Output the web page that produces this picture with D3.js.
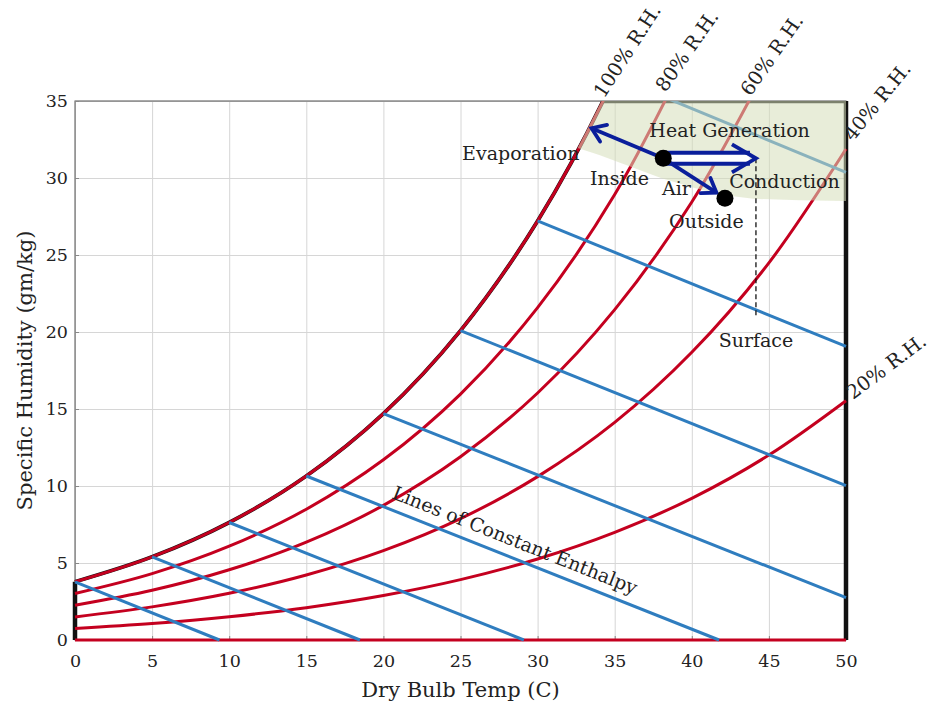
<!DOCTYPE html>
<meta charset="utf-8">
<title>Psychrometric chart</title>
<style>
    body { margin: 0; background: #fff; }
    text { font-family: "DejaVu Serif", serif; fill: #222; }
</style>
<script src="https://d3js.org/d3.v7.min.js"></script>
<svg id="chart" width="934" height="709"></svg>
<script>
    // dry bulb temperatures (C) where the humidity curves were read
    const temps = [0, 5, 10, 15, 20, 25, 30, 35, 40, 45, 50];

    // specific humidity (gm/kg) along each relative humidity curve
    const rh0   = [0, 0, 0, 0, 0, 0, 0, 0, 0, 0, 0];
    const rh20  = [0.75, 1.07, 1.51, 2.10, 2.89, 3.92, 5.26, 6.99, 9.20, 12.01, 15.54];
    const rh40  = [1.50, 2.15, 3.03, 4.22, 5.80, 7.88, 10.61, 14.13, 18.68, 24.49, 31.88];
    const rh60  = [2.26, 3.23, 4.56, 6.35, 8.74, 11.90, 16.04, 21.45, 28.44, 37.47];
    const rh80  = [3.02, 4.31, 6.09, 8.49, 11.70, 15.97, 21.58, 28.93, 38.51];
    const rh100 = [3.78, 5.40, 7.63, 10.65, 14.70, 20.09, 27.21, 36.58, 48.89];
    const rhSeries = [rh0, rh20, rh40, rh60, rh80, rh100];

    // where the saturation curve leaves the top of the chart
    const satTopT = 34.15;

    // lines of constant enthalpy: start on saturation, end on the chart edge
    const enthStartT = [0, 5, 10, 15, 20, 25, 30, 35];
    const enthStartW = [3.78, 5.40, 7.63, 10.65, 14.70, 20.09, 27.21, 36.58];
    const enthEndT   = [9.37, 18.48, 29.11, 41.77, 50, 50, 50, 50];
    const enthEndW   = [0, 0, 0, 0, 2.75, 10.03, 19.06, 30.37];

    // shaded zone (lower edge)
    const zoneT = [34.15, 50, 50, 47, 44, 42, 40, 38, 36, 34, 32.6];
    const zoneW = [35, 35, 28.5, 28.55, 28.65, 28.9, 29.4, 30.0, 30.75, 31.5, 31.95];

    // inside / outside air states
    const insideAir  = [38.15, 31.28];
    const outsideAir = [42.15, 28.68];
    const evapTip    = [33.5, 33.23];
    const airTip     = [41.6, 29.05];
    const heatTip    = [44.16, 31.28];
    const surfaceEnd = [44.16, 20.9];

    const xTicks = [0, 5, 10, 15, 20, 25, 30, 35, 40, 45, 50];
    const yTicks = [0, 5, 10, 15, 20, 25, 30, 35];

    const rhLabels = ["100% R.H.", "80% R.H.", "60% R.H.", "40% R.H.", "20% R.H."];
    const rhLabelAt = [[34.3, 35.13, -57], [38.3, 35.52, -55], [43.8, 35.26, -55],
                       [50.45, 32.34, -51], [50.45, 15.58, -37]];

    const notes = [
        {t: "Evaporation",     x: 25.1,  y: 31.17, a: "start"},
        {t: "Heat Generation", x: 42.45, y: 32.66, a: "middle"},
        {t: "Inside",          x: 35.31, y: 29.55, a: "middle"},
        {t: "Air",             x: 39.0,  y: 28.9,  a: "middle"},
        {t: "Conduction",      x: 46.01, y: 29.35, a: "middle"},
        {t: "Outside",         x: 40.95, y: 26.75, a: "middle"},
        {t: "Surface",         x: 44.16, y: 19.03, a: "middle"}
    ];

    const svg = d3.select("#chart");
    const red = "#c4001f", blue = "#2f7dbf", navy = "#0a1e9b";

    const x = d3.scaleLinear().domain([0, 50]).range([75, 846]);
    const y = d3.scaleLinear().domain([0, 35]).range([640, 101]);

    svg.append("defs").append("clipPath").attr("id", "plot")
        .append("rect")
        .attr("x", x(0) - 6).attr("y", y(35))
        .attr("width", x(50) - x(0) + 12).attr("height", y(0) - y(35) + 6);

    // grid
    svg.append("g")
        .attr("transform", `translate(0,${y(0)})`)
        .call(d3.axisBottom(x).tickValues(xTicks).tickSize(-(y(0) - y(35))).tickFormat(""))
        .call(g => g.select(".domain").remove())
        .selectAll("line").attr("stroke", "#d6d6d6");
    svg.append("g")
        .attr("transform", `translate(${x(0)},0)`)
        .call(d3.axisLeft(y).tickValues(yTicks).tickSize(-(x(50) - x(0))).tickFormat(""))
        .call(g => g.select(".domain").remove())
        .selectAll("line").attr("stroke", "#d6d6d6");

    // frame
    svg.append("rect")
        .attr("x", x(0)).attr("y", y(35))
        .attr("width", x(50) - x(0)).attr("height", y(0) - y(35))
        .attr("fill", "none").attr("stroke", "#555").attr("stroke-width", 1);

    // tick labels
    const xAxis = svg.append("g")
        .attr("transform", `translate(0,${y(0)})`)
        .call(d3.axisBottom(x).tickValues(xTicks).tickSizeInner(-4).tickSizeOuter(0).tickPadding(15));
    const yAxis = svg.append("g")
        .attr("transform", `translate(${x(0)},0)`)
        .call(d3.axisLeft(y).tickValues(yTicks).tickSizeInner(-4).tickSizeOuter(0).tickPadding(7));
    [xAxis, yAxis].forEach(g => {
        g.select(".domain").remove();
        g.selectAll("line").attr("stroke", "#888");
        g.selectAll("text").attr("font-family", "DejaVu Serif").attr("font-size", 17.5).attr("fill", "#222");
    });

    svg.append("text")
        .attr("x", x(25)).attr("y", 697)
        .attr("text-anchor", "middle").attr("font-size", 21)
        .text("Dry Bulb Temp (C)");
    svg.append("text")
        .attr("transform", `translate(32,${y(17.5)}) rotate(-90)`)
        .attr("text-anchor", "middle").attr("font-size", 21)
        .text("Specific Humidity (gm/kg)");

    const plot = svg.append("g").attr("clip-path", "url(#plot)");

    const curve = d3.line()
        .x((d, i) => x(temps[i]))
        .y(d => y(d))
        .curve(d3.curveCatmullRom);

    // black outline of the saturated region
    plot.append("path")
        .attr("d", curve(rh100))
        .attr("fill", "none").attr("stroke", "#111").attr("stroke-width", 3.8);
    plot.append("path")
        .attr("d", d3.line()([[x(0), y(0)], [x(0), y(rh100[0])]]))
        .attr("stroke", "#111").attr("stroke-width", 4.5);
    plot.append("path")
        .attr("d", d3.line()([[x(satTopT), y(35)], [x(50), y(35)], [x(50), y(0)]]))
        .attr("fill", "none").attr("stroke", "#111").attr("stroke-width", 4.5);

    // relative humidity curves
    plot.selectAll("path.rh")
        .data(rhSeries)
        .join("path")
        .attr("class", "rh")
        .attr("d", d => curve(d))
        .attr("fill", "none").attr("stroke", red).attr("stroke-width", 3);

    // enthalpy lines
    plot.selectAll("line.enth")
        .data(enthStartT)
        .join("line")
        .attr("class", "enth")
        .attr("x1", (d, i) => x(enthStartT[i])).attr("y1", (d, i) => y(enthStartW[i]))
        .attr("x2", (d, i) => x(enthEndT[i])).attr("y2", (d, i) => y(enthEndW[i]))
        .attr("stroke", blue).attr("stroke-width", 3);

    // shaded zone
    plot.append("path")
        .attr("d", d3.line()(zoneT.map((t, i) => [x(t), y(zoneW[i])])) + "Z")
        .attr("fill", "#d5dfb9").attr("opacity", 0.55);

    // dashed surface line
    svg.append("line")
        .attr("x1", x(heatTip[0])).attr("y1", y(heatTip[1]))
        .attr("x2", x(surfaceEnd[0])).attr("y2", y(surfaceEnd[1]))
        .attr("stroke", "#111").attr("stroke-width", 1.3).attr("stroke-dasharray", "5,3");

    function head(tip, from, len, spread) {
        const [tx, ty] = [x(tip[0]), y(tip[1])];
        const [fx, fy] = [x(from[0]), y(from[1])];
        const a = Math.atan2(ty - fy, tx - fx);
        const p1 = [tx - len * Math.cos(a) + spread * Math.sin(a), ty - len * Math.sin(a) - spread * Math.cos(a)];
        const p2 = [tx - len * Math.cos(a) - spread * Math.sin(a), ty - len * Math.sin(a) + spread * Math.cos(a)];
        return d3.line()([p1, [tx, ty], p2]);
    }

    // double arrow: heat generation / conduction
    const dbl = d3.line()([[x(insideAir[0]), y(insideAir[1])], [x(heatTip[0]) - 6, y(heatTip[1])]]);
    svg.append("path").attr("d", dbl).attr("stroke", navy).attr("stroke-width", 15);
    svg.append("path").attr("d", dbl).attr("stroke", "#fff").attr("stroke-width", 7);
    svg.append("path").attr("d", head(heatTip, insideAir, 24, 14))
        .attr("fill", "none").attr("stroke", navy).attr("stroke-width", 3.8);

    // single arrows
    [[evapTip, insideAir], [airTip, insideAir]].forEach(([tip, from]) => {
        svg.append("path")
            .attr("d", d3.line()([[x(from[0]), y(from[1])], [x(tip[0]), y(tip[1])]]))
            .attr("stroke", navy).attr("stroke-width", 3.8);
        svg.append("path").attr("d", head(tip, from, 13, 9))
            .attr("fill", "none").attr("stroke", navy).attr("stroke-width", 3.8)
            .attr("stroke-linecap", "round");
    });

    // air states
    svg.selectAll("circle.state")
        .data([insideAir, outsideAir])
        .join("circle")
        .attr("class", "state")
        .attr("cx", d => x(d[0])).attr("cy", d => y(d[1]))
        .attr("r", 8.5).attr("fill", "#000");

    // annotations
    svg.selectAll("text.note")
        .data(notes)
        .join("text")
        .attr("class", "note")
        .attr("x", d => x(d.x)).attr("y", d => y(d.y))
        .attr("text-anchor", d => d.a)
        .attr("font-size", 19)
        .text(d => d.t);

    svg.append("text")
        .attr("transform", `translate(${x(28.53)},${y(6.49)}) rotate(21.7)`)
        .attr("text-anchor", "middle").attr("dy", "0.35em")
        .attr("font-size", 19)
        .text("Lines of Constant Enthalpy");

    svg.selectAll("text.rhlab")
        .data(rhLabels)
        .join("text")
        .attr("class", "rhlab")
        .attr("transform", (d, i) => `translate(${x(rhLabelAt[i][0])},${y(rhLabelAt[i][1])}) rotate(${rhLabelAt[i][2]})`)
        .attr("font-size", 19.5)
        .text(d => d);
</script>
